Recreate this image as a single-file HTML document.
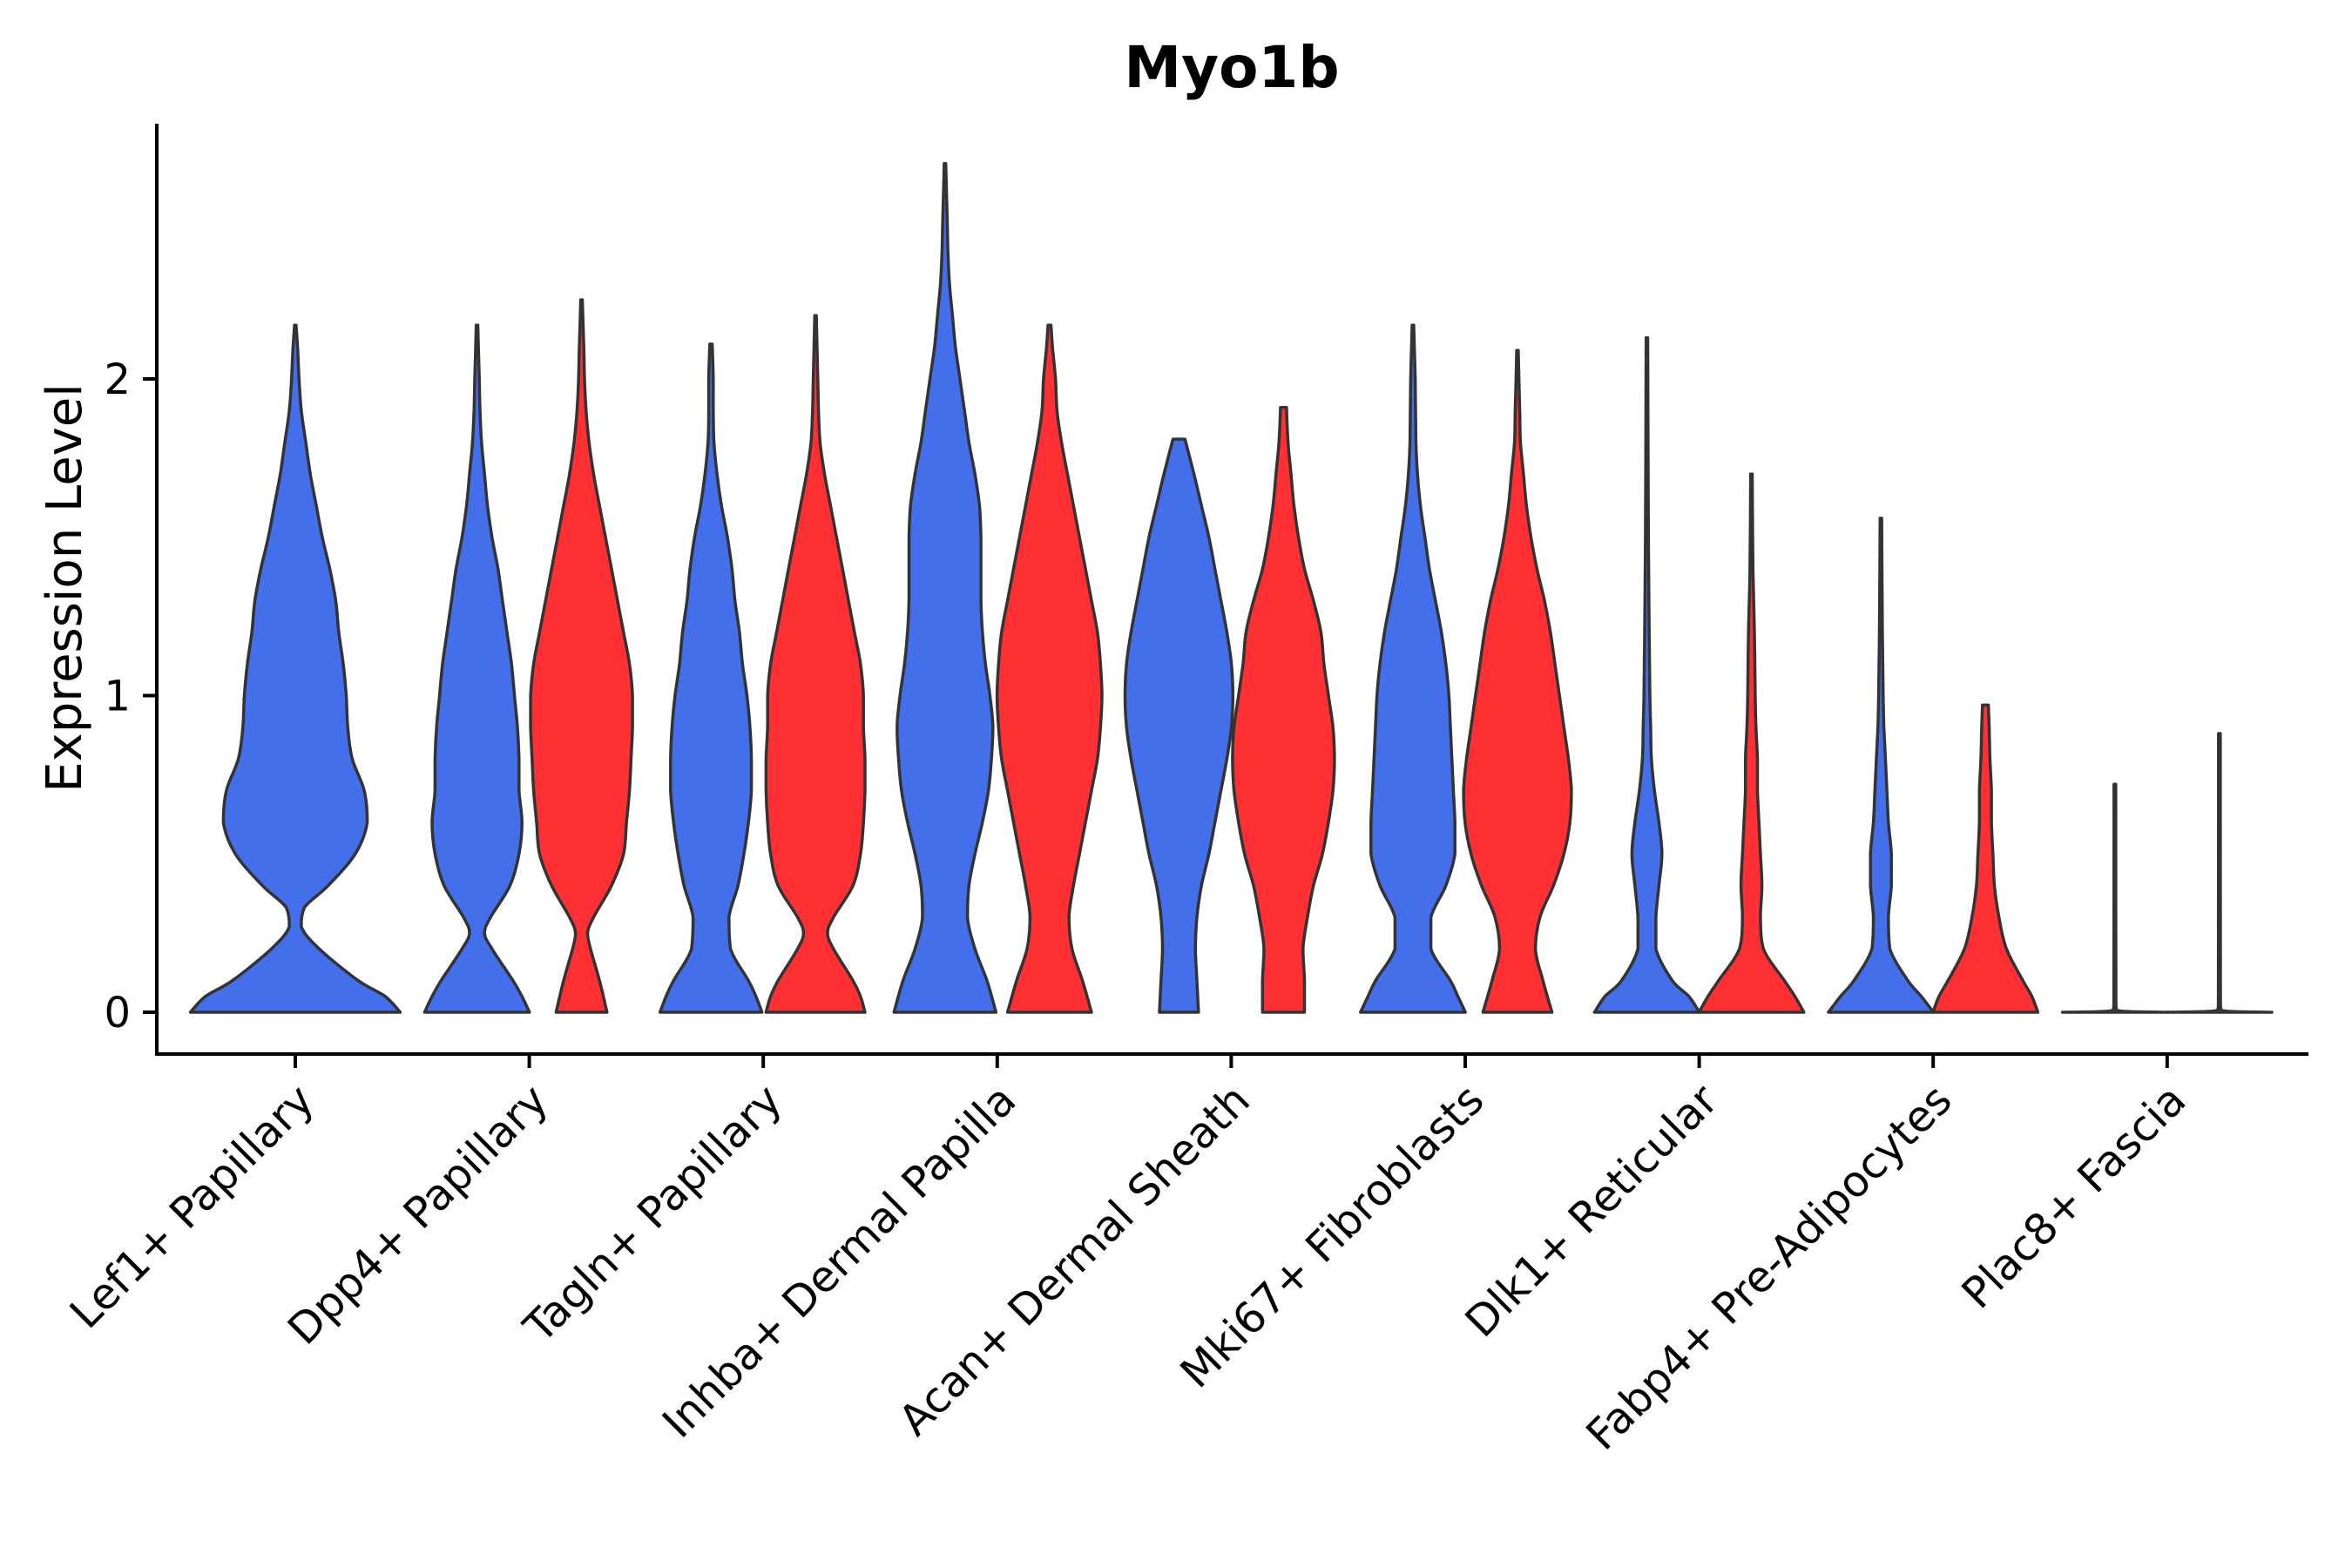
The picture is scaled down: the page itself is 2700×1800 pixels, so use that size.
<!DOCTYPE html>
<html><head><meta charset="utf-8"><style>
html,body{margin:0;padding:0;background:#fff;}
svg{display:block;font-family:"DejaVu Sans","Liberation Sans",sans-serif;}
</style></head><body>
<svg id="chart" width="2700" height="1800" viewBox="0 0 2700 1800">
<text x="1414" y="100" text-anchor="middle" font-size="66" font-weight="bold">Myo1b</text>
<text transform="translate(93,675) rotate(-90)" text-anchor="middle" font-size="56">Expression Level</text>
<g id="violins"></g>
<g id="axes"></g>
</svg>
<script>
const categories = ["Lef1+ Papillary","Dpp4+ Papillary","Tagln+ Papillary","Inhba+ Dermal Papilla","Acan+ Dermal Sheath","Mki67+ Fibroblasts","Dlk1+ Reticular","Fabp4+ Pre-Adipocytes","Plac8+ Fascia"];
const yTicks = [0,1,2];
// violins: category index, group (0 blue / 1 red / -1 single), density profile [value, half-width]
const violinCat = [0,1,1,2,2,3,3,4,4,5,5,6,6,7,7,8,8];
const violinGroup = [-1,0,1,0,1,0,1,0,1,0,1,0,1,0,1,0,1];
const lef1Blue = [[0,70],[0.05,60],[0.1,42],[0.2,16],[0.27,4],[0.33,6],[0.4,22],[0.5,40],[0.6,48],[0.7,46],[0.8,38],[0.9,35],[1.0,34],[1.1,32],[1.2,29],[1.3,27],[1.4,23],[1.5,18],[1.6,14],[1.7,10],[1.8,7],[1.9,4],[2.0,2.5],[2.1,1.5],[2.17,0.5]];
const dpp4Blue = [[0,35],[0.05,30],[0.1,24],[0.2,10],[0.25,5],[0.3,9],[0.4,22],[0.5,28],[0.6,30],[0.7,28],[0.8,28],[0.9,27],[1.0,25],[1.1,23],[1.2,20],[1.3,17],[1.4,14],[1.5,10],[1.6,7],[1.7,5],[1.8,3],[1.9,2],[2.0,1.5],[2.17,0.5]];
const dpp4Red = [[0,17],[0.1,12],[0.2,6],[0.25,4],[0.3,8],[0.4,20],[0.5,28],[0.6,30],[0.7,32],[0.8,33],[0.9,34],[1.0,34],[1.1,32],[1.2,28],[1.3,24],[1.4,20],[1.5,16],[1.6,12],[1.7,8],[1.8,5],[1.9,3],[2.0,2],[2.1,1.5],[2.25,0.5]];
const taglnBlue = [[0,34],[0.05,30],[0.1,25],[0.2,13],[0.3,12],[0.4,18],[0.5,22],[0.6,25],[0.7,27],[0.8,27],[0.9,26],[1.0,24],[1.1,21],[1.2,19],[1.3,16],[1.4,14],[1.5,11],[1.6,7],[1.7,4],[1.8,2],[1.9,1.5],[2.0,1.5],[2.11,0.8]];
const taglnRed = [[0,33],[0.05,30],[0.1,25],[0.2,12],[0.25,8],[0.3,12],[0.4,25],[0.5,30],[0.6,32],[0.7,33],[0.8,33],[0.9,32],[1.0,32],[1.1,30],[1.2,26],[1.3,22],[1.4,18],[1.5,14],[1.6,10],[1.7,6],[1.8,3],[1.9,2],[2.0,1.5],[2.2,0.5]];
const inhbaBlue = [[0,34],[0.1,28],[0.2,20],[0.3,15],[0.4,16],[0.5,20],[0.6,25],[0.7,29],[0.8,31],[0.9,32],[1.0,30],[1.1,27],[1.2,25],[1.3,24],[1.4,24],[1.5,24],[1.6,23],[1.7,20],[1.8,16],[1.9,13],[2.0,10],[2.1,7],[2.2,5],[2.3,3],[2.4,2],[2.5,1.5],[2.68,0.5]];
const inhbaRed = [[0,28],[0.1,22],[0.2,15],[0.3,13],[0.4,16],[0.5,20],[0.6,24],[0.7,28],[0.8,32],[0.9,34],[1.0,35],[1.1,34],[1.2,32],[1.3,28],[1.4,24],[1.5,20],[1.6,16],[1.7,12],[1.8,8],[1.9,5],[2.0,4],[2.1,2],[2.17,1]];
const acanBlue = [[0,13],[0.1,12],[0.2,11],[0.3,12],[0.4,15],[0.5,20],[0.6,24],[0.7,28],[0.8,32],[0.9,35],[1.0,36],[1.1,35],[1.2,32],[1.3,28],[1.4,24],[1.5,20],[1.6,15],[1.7,10],[1.81,4]];
const acanRed = [[0,14],[0.1,14],[0.2,13],[0.3,16],[0.4,20],[0.5,26],[0.6,30],[0.7,33],[0.8,34],[0.9,33],[1.0,30],[1.1,27],[1.2,25],[1.3,20],[1.4,14],[1.5,10],[1.6,7],[1.7,5],[1.8,3],[1.91,2]];
const mki67Blue = [[0,35],[0.05,30],[0.1,25],[0.2,12],[0.3,12],[0.4,22],[0.5,28],[0.6,28],[0.7,27],[0.8,26],[0.9,25],[1.0,24],[1.1,22],[1.2,19],[1.3,15],[1.4,11],[1.5,8],[1.6,5],[1.7,3],[1.8,2],[2.0,1.5],[2.17,0.5]];
const mki67Red = [[0,23],[0.1,17],[0.2,12],[0.3,15],[0.4,24],[0.5,31],[0.6,35],[0.7,36],[0.8,34],[0.9,31],[1.0,28],[1.1,25],[1.2,22],[1.3,18],[1.4,13],[1.5,9],[1.6,6],[1.7,4],[1.8,2],[1.9,1.5],[2.09,0.5]];
const dlk1Blue = [[0,35],[0.05,28],[0.1,17],[0.2,6],[0.3,6],[0.4,8],[0.5,10],[0.6,8],[0.7,5],[0.8,3],[0.9,2.5],[1.0,2],[1.2,1.5],[1.5,1],[2.13,0.5]];
const dlk1Red = [[0,35],[0.05,29],[0.1,22],[0.2,8],[0.3,6],[0.4,7],[0.5,6],[0.6,5],[0.7,4],[0.8,4],[0.9,3],[1.0,2.5],[1.2,2],[1.4,1],[1.7,0.5]];
const fabp4Blue = [[0,35],[0.05,27],[0.1,18],[0.2,6],[0.3,5],[0.4,7],[0.5,7],[0.6,5],[0.7,4],[0.8,3],[0.9,2],[1.0,1.5],[1.2,1],[1.56,0.5]];
const fabp4Red = [[0,35],[0.05,31],[0.1,25],[0.2,14],[0.3,9],[0.4,6],[0.5,5],[0.6,4],[0.7,4],[0.8,3],[0.9,2.5],[0.97,2]];
const plac8Blue = [[0,35],[0.004,3],[0.02,0.7],[0.72,0.6]];
const plac8Red = [[0,35],[0.004,3],[0.02,0.7],[0.88,0.6]];
const profiles = [lef1Blue,dpp4Blue,dpp4Red,taglnBlue,taglnRed,inhbaBlue,inhbaRed,acanBlue,acanRed,mki67Blue,mki67Red,dlk1Blue,dlk1Red,fabp4Blue,fabp4Red,plac8Blue,plac8Red];

const NS = "http://www.w3.org/2000/svg";
const X0 = 339, XSTEP = 268.6, OFF = 60, Y0 = 1162, YUNIT = 363.5, WSCALE = 1.72;
function xScale(i){ return X0 + i*XSTEP; }
function yScale(v){ return Y0 - v*YUNIT; }
function wScale(w){ return w*WSCALE; }
function clamp(v,a,b){ const lo=Math.min(a,b), hi=Math.max(a,b); return Math.max(lo,Math.min(hi,v)); }

function smoothSegs(pts){
  let d = "";
  for (let i=0;i<pts.length-1;i++){
    const p0 = pts[Math.max(0,i-1)], p1 = pts[i], p2 = pts[i+1], p3 = pts[Math.min(pts.length-1,i+2)];
    const c1x = clamp(p1[0]+(p2[0]-p0[0])/6, p1[0], p2[0]), c1y = clamp(p1[1]+(p2[1]-p0[1])/6, p1[1], p2[1]);
    const c2x = clamp(p2[0]-(p3[0]-p1[0])/6, p1[0], p2[0]), c2y = clamp(p2[1]-(p3[1]-p1[1])/6, p1[1], p2[1]);
    d += " C"+c1x.toFixed(1)+","+c1y.toFixed(1)+" "+c2x.toFixed(1)+","+c2y.toFixed(1)+" "+p2[0].toFixed(1)+","+p2[1].toFixed(1);
  }
  return d;
}

const vg = document.getElementById("violins");
profiles.forEach((prof, k) => {
  const cx = xScale(violinCat[k]) + (violinGroup[k] < 0 ? 0 : (violinGroup[k] === 0 ? -OFF : OFF));
  const right = prof.map(p => [cx + wScale(p[1]), yScale(p[0])]);
  const left = prof.slice().reverse().map(p => [cx - wScale(p[1]), yScale(p[0])]);
  let d = "M" + right[0][0].toFixed(1) + "," + right[0][1].toFixed(1) + smoothSegs(right);
  d += " L" + left[0][0].toFixed(1) + "," + left[0][1].toFixed(1) + smoothSegs(left) + " Z";
  const path = document.createElementNS(NS, "path");
  path.setAttribute("d", d);
  path.setAttribute("fill", violinGroup[k] === 1 ? "#FF3033" : "#436FEB");
  path.setAttribute("stroke", "#333333");
  path.setAttribute("stroke-width", "3.5");
  path.setAttribute("stroke-linejoin", "round");
  
  
  vg.appendChild(path);
});

const ag = document.getElementById("axes");
function line(x1,y1,x2,y2,name){
  const l = document.createElementNS(NS,"line");
  l.setAttribute("x1",x1); l.setAttribute("y1",y1); l.setAttribute("x2",x2); l.setAttribute("y2",y2);
  l.setAttribute("stroke","#000"); l.setAttribute("stroke-width","4");
  
  
  ag.appendChild(l);
}
line(180,142,180,1212,"y-axis-line");
line(178,1210,2650,1210,"x-axis-line");
yTicks.forEach(v => {
  line(164, yScale(v), 180, yScale(v), "y-tick");
  const t = document.createElementNS(NS,"text");
  t.setAttribute("x", 150); t.setAttribute("y", yScale(v)+17);
  t.setAttribute("text-anchor","end"); t.setAttribute("font-size","48");
  t.textContent = String(v);
  
  
  ag.appendChild(t);
});
categories.forEach((c,i) => {
  const x = xScale(i);
  line(x, 1210, x, 1226, "x-tick");
  const t = document.createElementNS(NS,"text");
  t.setAttribute("transform","translate("+(x+24)+",1266) rotate(-45)");
  t.setAttribute("text-anchor","end"); t.setAttribute("font-size","49");
  t.textContent = c;
  
  
  ag.appendChild(t);
});
</script>
</body></html>
